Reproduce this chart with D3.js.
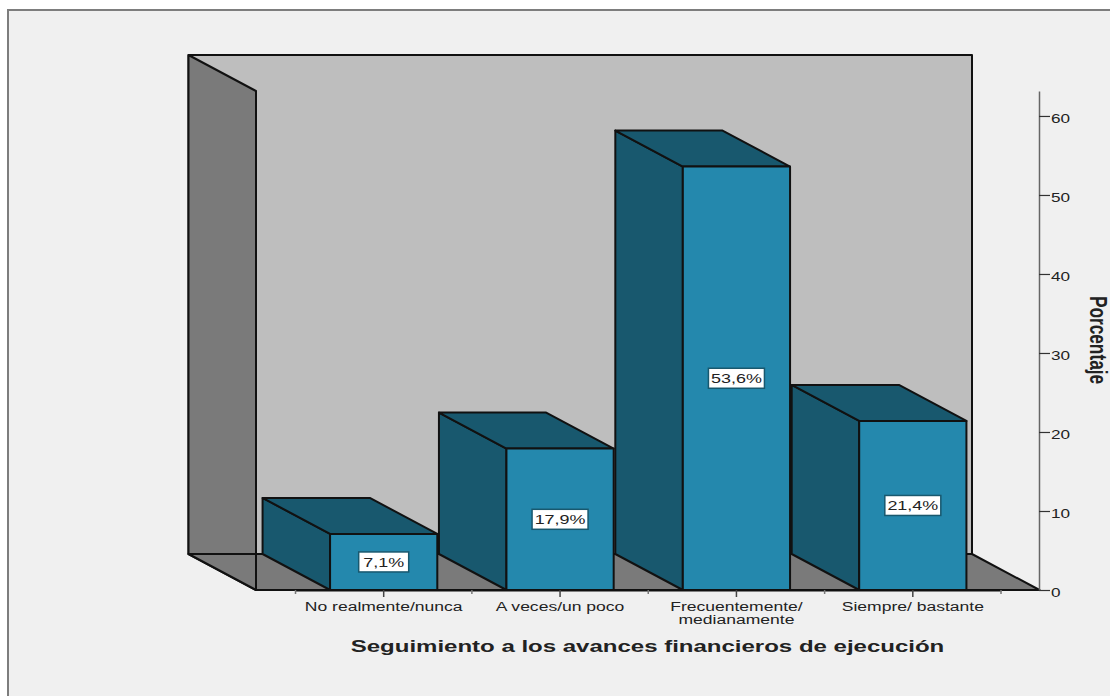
<!DOCTYPE html>
<html>
<head>
<meta charset="utf-8">
<script src="https://cdn.jsdelivr.net/npm/d3@7"></script>
<style>
  html, body { margin: 0; padding: 0; background: #fff; }
  svg { display: block; }
  text { font-family: "Liberation Sans", Arial, sans-serif; fill: #222; }
</style>
</head>
<body>
<div id="bar_chart"></div>
<script>
  var categories = ["No realmente/nunca", "A veces/un poco", "Frecuentemente/|medianamente", "Siempre/ bastante"];
  var percentages = [7.1, 17.9, 53.6, 21.4];
  var percentLabels = ["7,1%", "17,9%", "53,6%", "21,4%"];
  var yTicks = [0, 10, 20, 30, 40, 50, 60];

  var width = 1110, height = 696;
  var depthX = 67.5, depthY = 36;

  var colors = {
    panel: "#f0f0f0", frame: "#7d7d7d", wall: "#bebebe", side: "#7a7a7a",
    front: "#2488ad", dark: "#18586e", line: "#111"
  };

  var x = d3.scaleBand()
    .domain(categories)
    .range([295.5, 1001])
    .paddingInner(0.392)
    .paddingOuter(0.196);

  var y = d3.scaleLinear()
    .domain([0, 63.16])
    .range([590, 91]);

  var svg = d3.select("#bar_chart").append("svg")
    .attr("width", width)
    .attr("height", height);

  svg.append("rect")
    .attr("x", 8).attr("y", 10)
    .attr("width", width).attr("height", height)
    .attr("fill", colors.panel)
    .attr("stroke", colors.frame)
    .attr("stroke-width", 2);

  function poly(g, pts, fill) {
    return g.append("polygon")
      .attr("points", pts.map(function(p) { return p.join(","); }).join(" "))
      .attr("fill", fill)
      .attr("stroke", colors.line)
      .attr("stroke-width", 2)
      .attr("stroke-linejoin", "round");
  }

  // stretch text sideways, the chart uses a wide face
  function widen(sel, k) {
    sel.each(function() {
      var w = this.getComputedTextLength();
      d3.select(this)
        .attr("textLength", w * k)
        .attr("lengthAdjust", "spacingAndGlyphs");
    });
  }

  // box walls and floor
  var box = svg.append("g");
  var x0 = 256, x1 = 1039.5;
  var yBase = y(0), yTop = y.range()[1];

  poly(box, [[x0 - depthX, yTop - depthY], [x1 - depthX, yTop - depthY],
             [x1 - depthX, yBase - depthY], [x0 - depthX, yBase - depthY]], colors.wall);
  poly(box, [[x0 - depthX, yTop - depthY], [x0, yTop],
             [x0, yBase], [x0 - depthX, yBase - depthY]], colors.side);
  poly(box, [[x0 - depthX, yBase - depthY], [x1 - depthX, yBase - depthY],
             [x1, yBase], [x0, yBase]], colors.side);
  // the wall's front edge runs on down across the floor
  box.append("line")
    .attr("x1", x0).attr("x2", x0)
    .attr("y1", yTop).attr("y2", yBase)
    .attr("stroke", colors.line)
    .attr("stroke-width", 2);

  // bars, left to right so each side face covers the previous bar
  var bars = svg.selectAll("g.bar")
    .data(percentages)
    .enter().append("g")
    .attr("class", "bar");

  bars.each(function(d, i) {
    var g = d3.select(this);
    var left = x(categories[i]), right = left + x.bandwidth(), top = y(d);
    poly(g, [[left - depthX, top - depthY], [left, top], [left, yBase], [left - depthX, yBase - depthY]], colors.dark);
    poly(g, [[left - depthX, top - depthY], [right - depthX, top - depthY], [right, top], [left, top]], colors.dark);
    poly(g, [[left, top], [right, top], [right, yBase], [left, yBase]], colors.front);
  });

  // value labels in white boxes
  var labels = svg.selectAll("g.value")
    .data(percentages)
    .enter().append("g")
    .attr("class", "value")
    .attr("transform", function(d, i) {
      return "translate(" + (x(categories[i]) + x.bandwidth() / 2) + "," + ((y(d) + yBase) / 2) + ")";
    });

  labels.append("rect")
    .attr("x", function(d, i) { return i === 0 ? -25 : -28; })
    .attr("y", -10)
    .attr("width", function(d, i) { return i === 0 ? 50 : 56; })
    .attr("height", 20)
    .attr("fill", "#fff")
    .attr("stroke", colors.dark)
    .attr("stroke-width", 1.5);

  labels.append("text")
    .attr("text-anchor", "middle")
    .attr("y", 5)
    .attr("font-size", 13)
    .text(function(d, i) { return percentLabels[i]; })
    .call(widen, 1.38);

  // x axis, major ticks on the bars and short ones between them
  var xAxis = svg.append("g")
    .attr("transform", "translate(0," + yBase + ")")
    .call(d3.axisBottom(x).tickSize(7).tickSizeOuter(0).tickFormat(""));
  xAxis.select(".domain").attr("stroke", colors.line).attr("stroke-width", 2);
  xAxis.selectAll(".tick line").attr("stroke", "#444").attr("stroke-width", 1.5);

  xAxis.selectAll(".minor")
    .data(d3.range(categories.length + 1))
    .enter().append("line")
    .attr("class", "minor")
    .attr("x1", function(i) { return x.range()[0] + i * x.step(); })
    .attr("x2", function(i) { return x.range()[0] + i * x.step(); })
    .attr("y1", 0).attr("y2", 4)
    .attr("stroke", "#777").attr("stroke-width", 1.5);

  var xLabels = svg.selectAll("text.cat")
    .data(categories)
    .enter().append("text")
    .attr("class", "cat")
    .attr("text-anchor", "middle")
    .attr("font-size", 12)
    .attr("transform", function(d) { return "translate(" + (x(d) + x.bandwidth() / 2) + ",611)"; });

  xLabels.each(function(d) {
    d3.select(this).selectAll("tspan")
      .data(d.split("|"))
      .enter().append("tspan")
      .attr("x", 0)
      .attr("y", function(s, i) { return i * 13; })
      .text(function(s) { return s; })
      .each(function() {
        var w = this.getComputedTextLength();
        d3.select(this).attr("textLength", w * 1.46).attr("lengthAdjust", "spacingAndGlyphs");
      });
  });

  // y axis on the right
  var yAxis = svg.append("g")
    .attr("transform", "translate(1039,0)")
    .call(d3.axisRight(y).tickValues(yTicks).tickSize(11).tickSizeOuter(0).tickPadding(1));
  yAxis.select(".domain").attr("stroke", "#666").attr("stroke-width", 1.5);
  yAxis.selectAll(".tick line").attr("stroke", "#333").attr("stroke-width", 1.2);
  yAxis.selectAll(".tick text")
    .attr("font-family", "'Liberation Sans', Arial, sans-serif")
    .attr("font-size", 13)
    .attr("dy", "0.52em")
    .attr("fill", "#222")
    .call(widen, 1.32);

  // axis titles
  svg.append("text")
    .attr("x", 647.5).attr("y", 652)
    .attr("text-anchor", "middle")
    .attr("font-size", 16)
    .attr("font-weight", "bold")
    .attr("fill", "#111")
    .text("Seguimiento a los avances financieros de ejecución")
    .call(widen, 1.5);

  svg.append("text")
    .attr("transform", "translate(1090,340) rotate(90)")
    .attr("text-anchor", "middle")
    .attr("font-size", 23)
    .attr("font-weight", "bold")
    .attr("fill", "#111")
    .text("Porcentaje")
    .call(widen, 0.75);
</script>
</body>
</html>
